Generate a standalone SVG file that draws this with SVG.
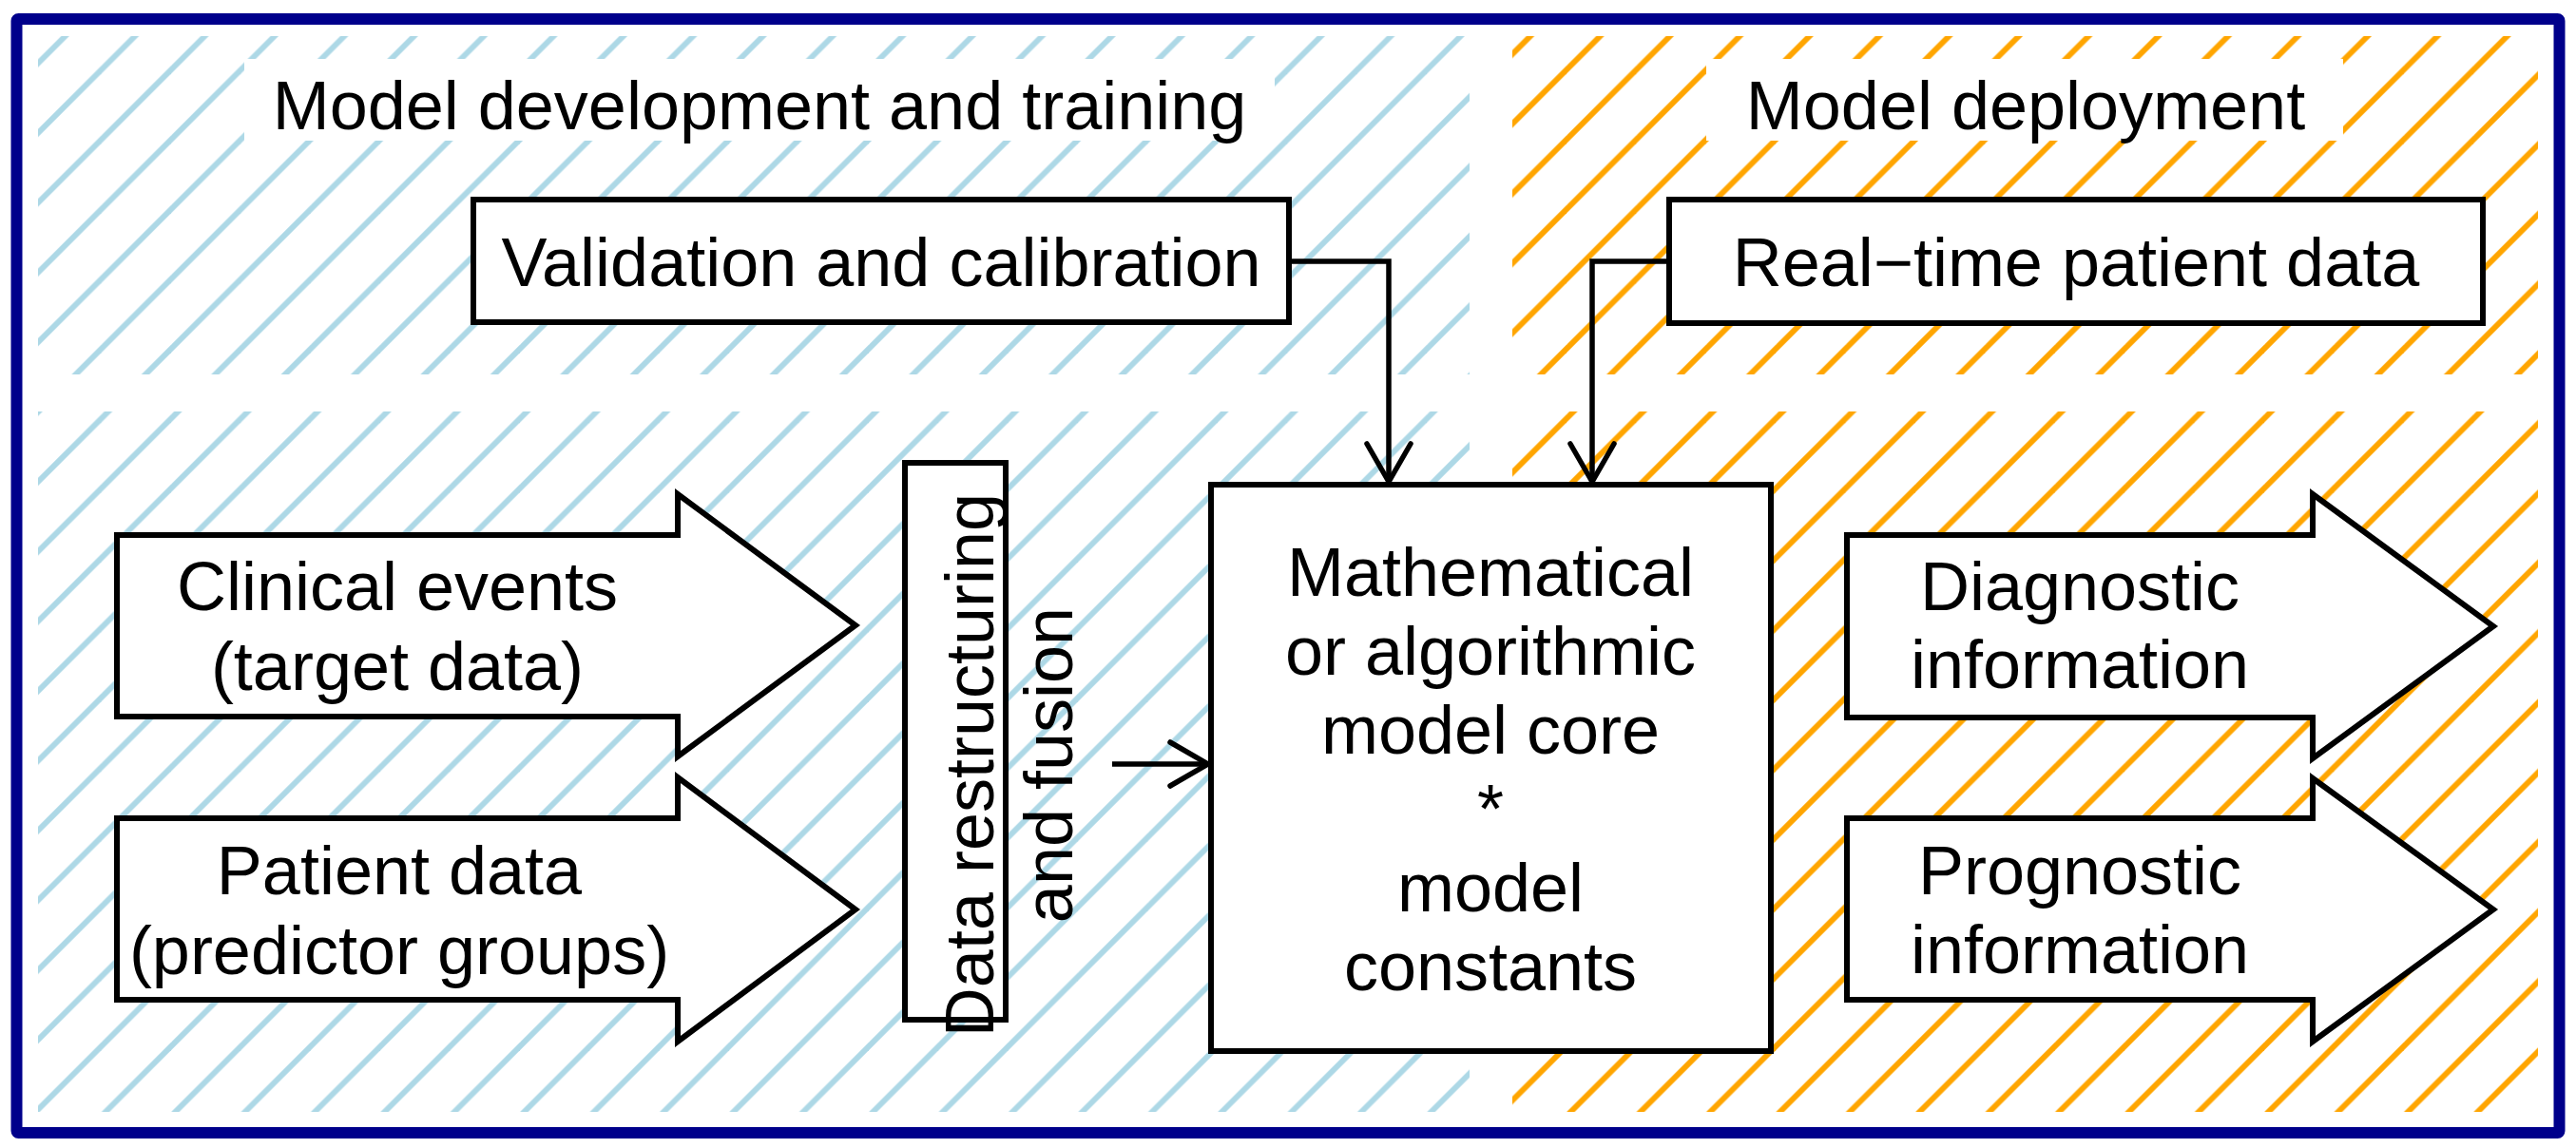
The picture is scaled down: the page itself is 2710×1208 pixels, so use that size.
<svg xmlns="http://www.w3.org/2000/svg" width="2710" height="1208" viewBox="0 0 2710 1208">
<defs>
<style>
.t{font-family:"Liberation Sans",Arial,sans-serif;font-size:72px;fill:#000;text-anchor:middle}
.box{fill:#fff;stroke:#000;stroke-width:6}
.arr{fill:#fff;stroke:#000;stroke-width:6;stroke-linejoin:miter}
.con{fill:none;stroke:#000;stroke-width:5.5;marker-end:url(#ah)}
</style>
<pattern id="hb" patternUnits="userSpaceOnUse" width="73.4" height="73.4" patternTransform="translate(33.2,0)">
<g stroke="#ADD8E6" stroke-width="6"><line x1="0" y1="73.4" x2="73.4" y2="0"/><line x1="-6" y1="6" x2="6" y2="-6"/><line x1="67.4" y1="79.4" x2="79.4" y2="67.4"/></g>
</pattern>
<pattern id="ho" patternUnits="userSpaceOnUse" width="73.4" height="73.4" patternTransform="translate(33.2,0)">
<g stroke="#FFA500" stroke-width="6"><line x1="0" y1="73.4" x2="73.4" y2="0"/><line x1="-6" y1="6" x2="6" y2="-6"/><line x1="67.4" y1="79.4" x2="79.4" y2="67.4"/></g>
</pattern>
<marker id="ah" markerUnits="userSpaceOnUse" markerWidth="60" markerHeight="60" refX="0" refY="0" orient="auto" overflow="visible">
<path d="M-40,-23 L0,0 L-40,23" fill="none" stroke="#000" stroke-width="5.5" stroke-linecap="round" stroke-linejoin="round"/>
</marker>
</defs>
<rect width="2710" height="1208" fill="#fff"/>
<g id="hatch">
<rect x="40" y="38" width="1506" height="356" fill="url(#hb)"/>
<rect x="40" y="433" width="1506" height="737" fill="url(#hb)"/>
<rect x="1591" y="38" width="1079" height="356" fill="url(#ho)"/>
<rect x="1591" y="433" width="1079" height="737" fill="url(#ho)"/>
</g>
<g id="title-dev">
<rect x="257" y="62" width="1084" height="86" fill="#fff"/>
<text class="t" x="799" y="136">Model development and training</text>
</g>
<g id="title-dep">
<rect x="1795" y="62" width="670" height="86" fill="#fff"/>
<text class="t" x="2131" y="136">Model deployment</text>
</g>
<g id="validation">
<rect class="box" x="498" y="210" width="858" height="129"/>
<text class="t" x="927" y="301">Validation and calibration</text>
</g>
<g id="realtime">
<rect class="box" x="1756" y="210" width="856" height="130"/>
<text class="t" x="2184" y="301">Real−time patient data</text>
</g>
<g id="clinical">
<polygon class="arr" points="123,563 713,563 713,520 900,658 713,796 713,754 123,754"/>
<text class="t" x="418" y="642">Clinical events</text>
<text class="t" x="418" y="726">(target data)</text>
</g>
<g id="patient">
<polygon class="arr" points="123,861 713,861 713,818 900,957 713,1096 713,1052 123,1052"/>
<text class="t" x="420" y="941">Patient data</text>
<text class="t" x="420" y="1025">(predictor groups)</text>
</g>
<g id="restructuring">
<rect class="box" x="952" y="487" width="106" height="586"/>
<text class="t" transform="translate(1045,805) rotate(-90)">Data restructuring</text>
<text class="t" transform="translate(1128,805) rotate(-90)">and fusion</text>
</g>
<g id="core">
<rect class="box" x="1274" y="510" width="589" height="596"/>
<text class="t" x="1568" y="627">Mathematical</text>
<text class="t" x="1568" y="710">or algorithmic</text>
<text class="t" x="1568" y="793">model core</text>
<text class="t" x="1568" y="876">*</text>
<text class="t" x="1568" y="959">model</text>
<text class="t" x="1568" y="1042">constants</text>
</g>
<g id="diagnostic">
<polygon class="arr" points="1943,563 2433,563 2433,520 2623,659 2433,798 2433,755 1943,755"/>
<text class="t" x="2188" y="642">Diagnostic</text>
<text class="t" x="2188" y="724">information</text>
</g>
<g id="prognostic">
<polygon class="arr" points="1943,861 2433,861 2433,819 2623,957 2433,1096 2433,1052 1943,1052"/>
<text class="t" x="2188" y="941">Prognostic</text>
<text class="t" x="2188" y="1024">information</text>
</g>
<g id="connectors">
<path class="con" d="M1356,275 H1461 V507"/>
<path class="con" d="M1756,275 H1675 V507"/>
<path class="con" d="M1170,804 H1271"/>
</g>
<rect id="frame" x="17.5" y="20" width="2675" height="1172" fill="none" stroke="#00008B" stroke-width="12" rx="2"/>
</svg>
